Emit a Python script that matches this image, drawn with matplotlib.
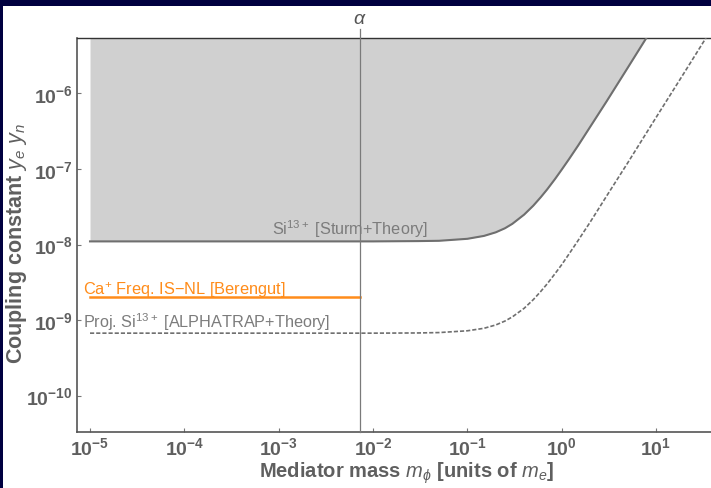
"""Yukawa coupling bounds vs mediator mass (Si13+ / Ca+ isotope shift)."""

import matplotlib

matplotlib.use("Agg")
import numpy as np
from matplotlib import pyplot as plt
from matplotlib.patches import Rectangle
from matplotlib.ticker import FixedLocator, FuncFormatter, NullLocator

# Si13+ [Sturm+Theory] excluded bound (solid)
STURM_M = [1e-5, 1e-3, 1e-2, 3e-2, 5e-2, 0.1, 0.15, 0.2, 0.25, 0.3, 0.4, 0.5, 0.6, 0.7,
           0.85, 1.0, 1.2, 1.5, 2.0, 3.0, 5.0, 10.0]
STURM_Y = [1.1e-8, 1.1e-8, 1.1e-8, 1.11e-8, 1.12e-8, 1.19e-8, 1.30e-8, 1.45e-8, 1.64e-8,
           1.88e-8, 2.49e-8, 3.27e-8, 4.23e-8, 5.35e-8, 7.37e-8, 9.8e-8, 1.36e-7, 2.06e-7,
           3.6e-7, 7.9e-7, 2.18e-6, 8.7e-6]

# Projected Si13+ [ALPHATRAP+Theory] (dashed)
PROJ_M = [1e-5, 1e-3, 1e-2, 3e-2, 5e-2, 0.1, 0.15, 0.2, 0.25, 0.3, 0.4, 0.5, 0.6, 0.7,
          0.85, 1.0, 1.2, 1.5, 2.0, 3.0, 5.0, 10.0, 20.0, 40.0]
PROJ_Y = [6.7e-10, 6.7e-10, 6.7e-10, 6.74e-10, 6.82e-10, 7.2e-10, 7.77e-10, 8.6e-10,
          9.68e-10, 1.1e-9, 1.43e-9, 1.86e-9, 2.39e-9, 3.0e-9, 4.11e-9, 5.4e-9, 7.53e-9,
          1.14e-8, 1.97e-8, 4.4e-8, 1.2e-7, 4.8e-7, 1.9e-6, 7.6e-6]

# Ca+ Freq. IS-NL [Berengut]
CA_M = [1e-5, 1 / 137.036]
CA_Y = [2.0e-9, 2.0e-9]

ALPHA = 1 / 137.036
X_TICKS = [1e-5, 1e-4, 1e-3, 1e-2, 1e-1, 1e0, 1e1]
Y_TICKS = [1e-10, 1e-9, 1e-8, 1e-7, 1e-6]

NAVY = "#000040"
GREY_TXT = "#5f5f5f"
GREY_LINE = "#6f6f6f"
ORANGE = "#ff8c1a"

plt.rcParams["font.family"] = ["Liberation Sans", "DejaVu Sans"]
plt.rcParams["mathtext.fontset"] = "custom"
plt.rcParams["mathtext.rm"] = "Liberation Sans"
plt.rcParams["mathtext.it"] = "Liberation Sans:italic"
plt.rcParams["mathtext.bf"] = "Liberation Sans:bold"

fig = plt.figure(figsize=(7.11, 4.89), dpi=100, facecolor=NAVY)
fig.add_artist(Rectangle((3 / 711, 0), 1, 1 - 7 / 489, transform=fig.transFigure,
                         facecolor="white", edgecolor="none", zorder=-10))
ax = fig.add_axes([77 / 711, 1 - 433 / 489, 1 - 77 / 711, (433 - 39) / 489])
ax.set_facecolor("none")
ax.set_xscale("log")
ax.set_yscale("log")
ax.set_xlim(10 ** -5.138, 10 ** 1.583)
ax.set_ylim(10 ** -10.483, 10 ** -5.265)

ax.fill_between(STURM_M, STURM_Y, 1e-3, color="#d0d0d0", linewidth=0, zorder=1)
ax.plot(STURM_M, STURM_Y, color=GREY_LINE, linewidth=1.5, zorder=3)
ax.plot(PROJ_M, PROJ_Y, color=GREY_LINE, linewidth=1.2, dashes=(2.5, 1.2), zorder=3)
ax.plot(CA_M, CA_Y, color=ORANGE, linewidth=1.8, zorder=3)

ax.axvline(ALPHA, ymin=0, ymax=1 + 9 / 394, color="#7a7a7a", linewidth=0.9,
           clip_on=False, zorder=4)
ax.text(ALPHA, 1 + 19 / 394, r"$\alpha$", transform=ax.get_xaxis_transform(),
        ha="center", va="center", fontsize=14, color="#555555")

ax.text(5.7e-3, 1.65e-8, r"Si$^{13+}$ [Sturm+Theory]", ha="center", va="center",
        fontsize=11.7, color="#7c7c7c", zorder=5)
ax.text(8.4e-6, 2.55e-9, r"Ca$^{+}$ Freq. IS$-$NL [Berengut]", ha="left", va="center",
        fontsize=11.8, color=ORANGE, zorder=5)
ax.text(8.4e-6, 9.7e-10, r"Proj. Si$^{13+}$ [ALPHATRAP+Theory]", ha="left", va="center",
        fontsize=11.7, color="#7c7c7c", zorder=5)

ax.xaxis.set_major_locator(FixedLocator(X_TICKS))
ax.yaxis.set_major_locator(FixedLocator(Y_TICKS))
ax.xaxis.set_minor_locator(NullLocator())
ax.yaxis.set_minor_locator(NullLocator())
fmt = FuncFormatter(lambda v, _: r"$\mathbf{10^{%d}}$" % round(np.log10(v)))
ax.xaxis.set_major_formatter(fmt)
ax.yaxis.set_major_formatter(fmt)
ax.tick_params(direction="in", length=3, width=0.8, color="#777777",
               labelsize=14, labelcolor=GREY_TXT, pad=3)

for side in ("left", "bottom"):
    ax.spines[side].set_color("#555555")
    ax.spines[side].set_linewidth(1.2)
ax.spines["top"].set_color("#333333")
ax.spines["top"].set_linewidth(1.0)
ax.spines["right"].set_visible(False)

ax.set_xlabel(r"Mediator mass $\mathbf{\mathit{m}}_{\phi}$ [units of $m_e$]",
              fontsize=14.5, fontweight="bold", color=GREY_TXT, va="center")
ax.set_ylabel(r"Coupling constant $y_e\ y_n$", fontsize=15.5, fontweight="bold",
              color=GREY_TXT, va="center")
ax.xaxis.set_label_coords(0.52, -40 / 394)
ax.yaxis.set_label_coords(-60 / 634, 0.48)

fig.savefig("out.png", dpi=100, facecolor=NAVY)
